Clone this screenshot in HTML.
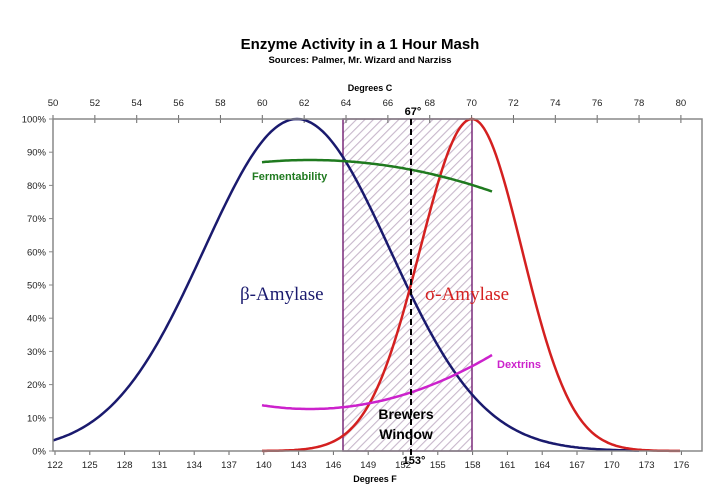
<!DOCTYPE html>
<html><head><meta charset="utf-8"><style>
body{margin:0;background:#fff}
svg text{font-family:"Liberation Sans",Arial,sans-serif}
</style></head><body>
<svg id="s" width="720" height="492" xmlns="http://www.w3.org/2000/svg">
<defs><pattern id="h" width="6" height="6" patternUnits="userSpaceOnUse" patternTransform="rotate(45)"><rect width="6" height="6" fill="#fff"/><line x1="0" y1="0" x2="0" y2="6" stroke="#c8b8cc" stroke-width="2.2"/></pattern></defs>
<text x="360" y="49" text-anchor="middle" font-weight="bold" font-size="15">Enzyme Activity in a 1 Hour Mash</text>
<text x="360" y="63" text-anchor="middle" font-weight="bold" font-size="9.5">Sources: Palmer, Mr. Wizard and Narziss</text>
<text x="370" y="91" text-anchor="middle" font-weight="bold" font-size="9">Degrees C</text>
<text x="375" y="482" text-anchor="middle" font-weight="bold" font-size="9">Degrees F</text>
<rect x="343" y="119" width="129" height="332" fill="url(#h)" stroke="#7a2a7a" stroke-width="1.5"/>
<g id="g"></g>
<rect x="53" y="119" width="649" height="332" fill="none" stroke="#888" stroke-width="1.5"/>
<line x1="411" y1="119" x2="411" y2="458" stroke="#000" stroke-width="2" stroke-dasharray="6,4"/>
<text x="413" y="115" text-anchor="middle" font-weight="bold" font-size="11">67°</text>
<text x="414" y="464" text-anchor="middle" font-weight="bold" font-size="11">153°</text>
<text x="406" y="419" text-anchor="middle" font-weight="bold" font-size="14">Brewers</text>
<text x="406" y="439" text-anchor="middle" font-weight="bold" font-size="14">Window</text>
<text x="252" y="180" font-weight="bold" font-size="11" fill="#1f7a1f">Fermentability</text>
<text x="497" y="368" font-weight="bold" font-size="11" fill="#cc22cc">Dextrins</text>
<text x="240" y="300" font-size="19" fill="#1a1a6e" style="font-family:'Liberation Serif',serif">β-Amylase</text>
<text x="425" y="300" font-size="19" fill="#d42020" style="font-family:'Liberation Serif',serif">σ-Amylase</text>
</svg>
<script>
var g=document.getElementById('g'),h='';
function Y(v){return 451-332*v}
for(var i=0;i<=10;i++){var y=Y(i/10);h+='<line x1="49" y1="'+y+'" x2="53" y2="'+y+'" stroke="#888"/><text x="46" y="'+(y+3.5)+'" text-anchor="end" font-size="9.5" fill="#222">'+(i*10)+'%</text>';}
for(var c=50;c<=80;c+=2){var x=53+(c-50)*20.93;h+='<line x1="'+x+'" y1="115" x2="'+x+'" y2="123" stroke="#666"/><text x="'+x+'" y="106" text-anchor="middle" font-size="9.5" fill="#222">'+c+'</text>';}
for(var f=122;f<=176;f+=3){var x=55+(f-122)*11.6;h+='<line x1="'+x+'" y1="451" x2="'+x+'" y2="455" stroke="#666"/><text x="'+x+'" y="468" text-anchor="middle" font-size="9.5" fill="#222">'+f+'</text>';}
function P(x0,x1,fn,col,w){var d='';for(var x=x0;x<=x1;x+=2)d+=(d?'L':'M')+x+' '+fn(x).toFixed(1);return '<path d="'+d+'" fill="none" stroke="'+col+'" stroke-width="'+w+'"/>';}
h+=P(53,640,function(x){return Y(Math.exp(-Math.pow(x-297,2)/(2*93*93)))},'#1a1a6e',2.5);
h+=P(262,680,function(x){var s=x<472?52:50;return Y(Math.exp(-Math.pow(x-472,2)/(2*s*s)))},'#d42020',2.5);
h+=P(262,492,function(x){return 160+0.00095*Math.pow(x-310,2)},'#1f7a1f',2.5);
h+=P(262,492,function(x){return 409-0.00163*Math.pow(x-310,2)},'#cc22cc',2.5);
g.innerHTML=h;
</script>
</body></html>
